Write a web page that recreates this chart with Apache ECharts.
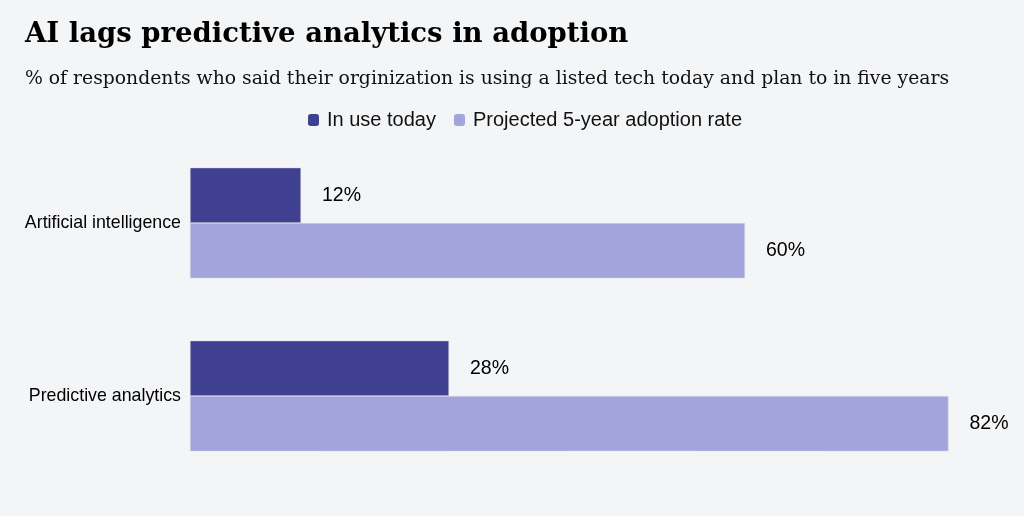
<!DOCTYPE html>
<html><head><meta charset="utf-8">
<script src="https://cdn.jsdelivr.net/npm/echarts@6/dist/echarts.min.js"></script>
<style>html,body{margin:0;padding:0;background:#f4f5f7;}#c{width:1024px;height:516px;}</style>
</head><body><div id="c"></div>
<script>
const categories = ['Artificial intelligence', 'Predictive analytics'];
const inUseToday = [12, 28];
const projected5Year = [60, 82];
const seriesNames = ['In use today', 'Projected 5-year adoption rate'];

const chart = echarts.init(document.getElementById('c'));
chart.setOption({
  backgroundColor: '#f4f5f7',
  animation: false,
  title: [{
    text: 'AI lags predictive analytics in adoption',
    left: 20, top: 16,
    textStyle: {fontFamily: 'DejaVu Serif', fontWeight: 'bold', fontSize: 27.5, color: '#000'}
  }, {
    text: '% of respondents who said their orginization is using a listed tech today and plan to in five years',
    left: 20, top: 65,
    textStyle: {fontFamily: 'DejaVu Serif', fontWeight: 'normal', fontSize: 18.8, color: '#111'}
  }],
  legend: {
    top: 105, left: 303,
    itemWidth: 11, itemHeight: 12, itemGap: 18,
    icon: 'roundRect',
    itemStyle: {borderWidth: 0},
    textStyle: {fontFamily: 'Liberation Sans', fontSize: 20, color: '#111', padding: [0, 0, 0, 3]},
    data: seriesNames
  },
  grid: {left: 190, right: 75.5, top: 136.5, height: 346, containLabel: false},
  xAxis: {type: 'value', min: 0, max: 82, show: false},
  yAxis: {
    type: 'category', data: categories, inverse: true,
    axisLine: {show: false}, axisTick: {show: false},
    axisLabel: {fontFamily: 'Liberation Sans', fontSize: 17.8, color: '#000', margin: 9}
  },
  series: [{
    name: seriesNames[0], type: 'bar', data: inUseToday,
    barGap: '0%', barCategoryGap: '36%',
    itemStyle: {color: '#3f4090', borderColor: '#dcdce4', borderWidth: 0.5},
    label: {show: true, position: 'right', distance: 21, formatter: '{c}%', fontFamily: 'Liberation Sans', fontSize: 19.5, color: '#000'}
  }, {
    name: seriesNames[1], type: 'bar', data: projected5Year,
    barGap: '0%', barCategoryGap: '36%',
    itemStyle: {color: '#a4a4dd', borderColor: '#dcdce4', borderWidth: 0.5},
    label: {show: true, position: 'right', distance: 21, formatter: '{c}%', fontFamily: 'Liberation Sans', fontSize: 19.5, color: '#000'}
  }]
});
</script></body></html>
